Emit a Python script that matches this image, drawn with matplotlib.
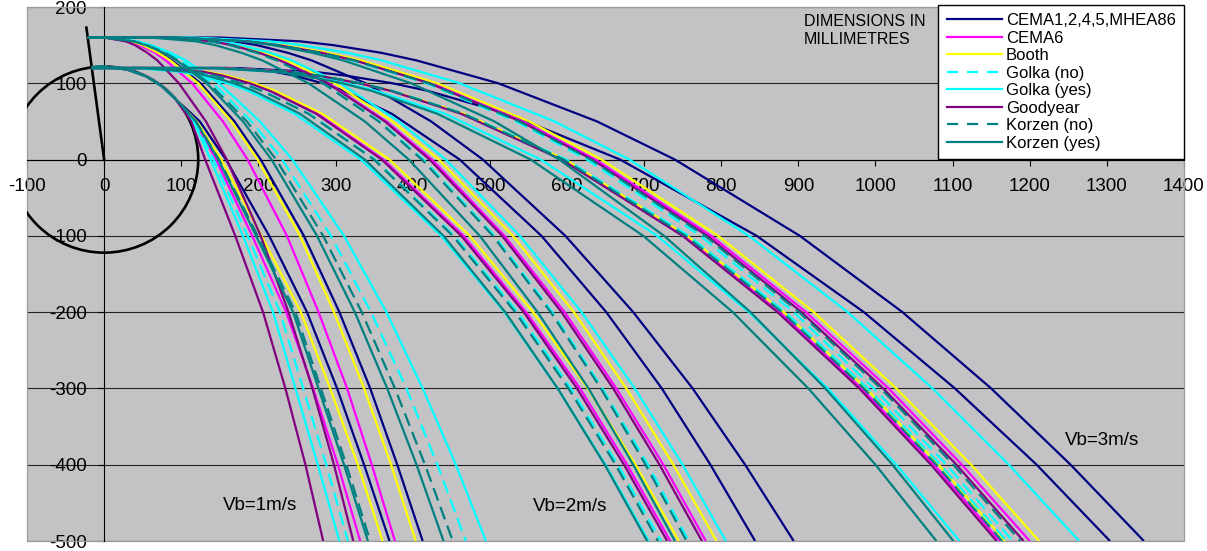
import matplotlib
matplotlib.use("Agg")
import matplotlib.pyplot as plt
from matplotlib.patches import Circle, Rectangle
from matplotlib.lines import Line2D

plt.rcParams['font.family'] = ['Liberation Sans', 'DejaVu Sans']
plt.rcParams['axes.unicode_minus'] = False

# ---------------- data ----------------
series_names = ["CEMA1,2,4,5,MHEA86", "CEMA6", "Booth", "Golka (no)",
                "Golka (yes)", "Goodyear", "Korzen (no)", "Korzen (yes)"]
series_colors = ['#000080', '#ff00ff', '#ffff00', '#00ffff',
                 '#00ffff', '#800080', '#008080', '#008080']
series_dashed = [False, False, False, True, False, False, True, False]

# y levels (mm) shared by the curves of each bundle
upper_y = [160, 160, 155, 150, 140, 130, 100, 50, 0, -100, -200, -300, -400, -500]
lower_y = [120, 120, 115, 110, 100, 90, 60, 0, -100, -200, -300, -400, -500]
pulley_y = [121, 122, 118, 109, 96, 80, 50, 0, -100, -200, -300, -400, -500]

# Vb = 3 m/s, top of material layer
vb3_upper_x = {
    "CEMA1,2,4,5,MHEA86": [-21, 150, 254, 297, 359, 405, 511, 639, 740, 902, 1035, 1150, 1253, 1348],
    "CEMA6":              [-21, 90, 187, 227, 283, 327, 425, 543, 637, 787, 910, 1017, 1112, 1200],
    "Booth":              [-21, 95, 192, 232, 290, 333, 432, 551, 645, 796, 920, 1027, 1124, 1212],
    "Golka (no)":         [-21, 90, 185, 224, 279, 322, 418, 534, 626, 773, 894, 998, 1092, 1178],
    "Golka (yes)":        [-21, 115, 215, 256, 315, 360, 461, 584, 681, 836, 964, 1074, 1173, 1264],
    "Goodyear":           [-21, 90, 186, 226, 282, 325, 422, 540, 633, 782, 904, 1010, 1105, 1192],
    "Korzen (no)":        [-21, 90, 186, 225, 281, 324, 421, 538, 631, 779, 901, 1007, 1101, 1188],
    "Korzen (yes)":       [-21, 95, 183, 219, 270, 310, 398, 506, 590, 726, 838, 935, 1022, 1101],
}
# Vb = 3 m/s, belt surface
vb3_lower_x = {
    "CEMA1,2,4,5,MHEA86": [-16, 170, 272, 314, 374, 420, 523, 669, 846, 985, 1103, 1209, 1304],
    "CEMA6":              [-16, 150, 241, 278, 332, 372, 465, 595, 752, 876, 982, 1076, 1161],
    "Booth":              [-16, 150, 241, 279, 333, 374, 467, 598, 756, 881, 988, 1082, 1168],
    "Golka (no)":         [-16, 150, 242, 280, 333, 374, 467, 599, 758, 883, 990, 1084, 1170],
    "Golka (yes)":        [-16, 140, 227, 263, 314, 353, 442, 566, 717, 836, 938, 1027, 1109],
    "Goodyear":           [-16, 150, 240, 278, 331, 372, 463, 593, 750, 873, 979, 1072, 1157],
    "Korzen (no)":        [-16, 150, 241, 279, 332, 373, 466, 596, 754, 879, 985, 1079, 1164],
    "Korzen (yes)":       [-16, 140, 224, 259, 309, 347, 432, 553, 699, 815, 913, 1000, 1079],
}
# Vb = 2 m/s, top of material layer
vb2_upper_x = {
    "CEMA1,2,4,5,MHEA86": [-21, 100, 169, 198, 238, 269, 339, 424, 491, 598, 686, 763, 831, 894],
    "CEMA6":              [-21, 80, 141, 166, 202, 229, 291, 366, 425, 519, 597, 664, 725, 780],
    "Booth":              [-21, 85, 147, 172, 208, 236, 299, 374, 434, 530, 609, 677, 738, 794],
    "Golka (no)":         [-21, 80, 139, 164, 198, 225, 284, 357, 414, 506, 581, 646, 705, 758],
    "Golka (yes)":        [-21, 90, 152, 178, 215, 243, 306, 382, 443, 539, 619, 688, 750, 806],
    "Goodyear":           [-21, 80, 141, 166, 201, 228, 290, 364, 422, 516, 593, 660, 720, 775],
    "Korzen (no)":        [-21, 80, 139, 163, 198, 224, 284, 356, 412, 504, 579, 644, 702, 755],
    "Korzen (yes)":       [-21, 60, 119, 144, 178, 205, 265, 338, 395, 487, 562, 628, 686, 740],
}
# Vb = 2 m/s, belt surface
vb2_lower_x = {
    "CEMA1,2,4,5,MHEA86": [-16, 160, 221, 247, 283, 311, 373, 461, 567, 651, 723, 786, 844],
    "CEMA6":              [-16, 70, 130, 154, 189, 216, 277, 362, 466, 547, 617, 678, 734],
    "Booth":              [-16, 75, 135, 160, 195, 222, 283, 370, 474, 556, 627, 689, 745],
    "Golka (no)":         [-16, 60, 119, 144, 179, 206, 266, 351, 454, 536, 605, 666, 722],
    "Golka (yes)":        [-16, 40, 100, 125, 160, 187, 247, 333, 437, 519, 588, 650, 706],
    "Goodyear":           [-16, 70, 129, 154, 189, 215, 275, 360, 463, 544, 613, 674, 730],
    "Korzen (no)":        [-16, 60, 119, 144, 178, 205, 265, 350, 452, 533, 602, 663, 718],
    "Korzen (yes)":       [-16, 50, 109, 133, 168, 194, 254, 338, 440, 520, 588, 649, 704],
}
# Vb = 1 m/s, top of material layer
vb1_upper_x = {
    "CEMA1,2,4,5,MHEA86": [-21, 0, 36, 51, 72, 88, 125, 169, 203, 259, 305, 345, 380, 413],
    "CEMA6":              [-21, 0, 33, 46, 66, 80, 114, 154, 186, 237, 278, 315, 347, 377],
    "Booth":              [-21, 0, 35, 50, 70, 86, 122, 165, 199, 254, 298, 337, 372, 404],
    "Golka (no)":         [-21, 0, 41, 58, 82, 100, 141, 191, 231, 294, 346, 392, 432, 469],
    "Golka (yes)":        [-21, 0, 43, 61, 86, 106, 149, 202, 244, 311, 366, 413, 456, 495],
    "Goodyear":           [-21, 0, 28, 40, 56, 69, 97, 132, 159, 203, 239, 270, 298, 323],
    "Korzen (no)":        [-21, 0, 39, 56, 79, 96, 136, 185, 223, 284, 334, 377, 416, 452],
    "Korzen (yes)":       [-21, 0, 38, 54, 77, 94, 133, 180, 217, 276, 325, 367, 405, 440],
}
# Vb = 1 m/s, belt surface (follows the pulley before release)
vb1_lower_x = {
    "CEMA1,2,4,5,MHEA86": [-16, 0, 30, 55, 75, 92, 124, 158, 214, 263, 302, 337, 370],
    "CEMA6":              [-16, 0, 30, 55, 75, 92, 118, 145, 192, 236, 271, 303, 332],
    "Booth":              [-16, 0, 30, 55, 75, 92, 120, 152, 204, 255, 293, 329, 361],
    "Golka (no)":         [-16, 0, 30, 55, 75, 92, 117, 142, 186, 228, 258, 288, 316],
    "Golka (yes)":        [-16, 0, 30, 55, 75, 92, 116, 138, 180, 219, 248, 277, 305],
    "Goodyear":           [-16, 0, 30, 55, 75, 92, 113, 131, 170, 206, 235, 261, 284],
    "Korzen (no)":        [-16, 0, 30, 55, 75, 92, 119, 149, 199, 248, 281, 314, 345],
    "Korzen (yes)":       [-16, 0, 30, 55, 75, 92, 119, 148, 197, 245, 278, 311, 342],
}

pulley_radius = 122
belt_line_x = [0, -23]
belt_line_y = [0, 173]

x_ticks = list(range(-100, 1401, 100))
y_ticks = list(range(-500, 201, 100))

speed_labels = ["Vb=1m/s", "Vb=2m/s", "Vb=3m/s"]
speed_label_x = [154, 556, 1246]
speed_label_y = [-453, -455, -368]

bundles = [(vb1_lower_x, pulley_y), (vb1_upper_x, upper_y),
           (vb2_lower_x, lower_y), (vb2_upper_x, upper_y),
           (vb3_lower_x, lower_y), (vb3_upper_x, upper_y)]

# ---------------- figure ----------------
fig = plt.figure(figsize=(12.07, 5.51), dpi=100)
ax = fig.add_axes([27 / 1207, 10 / 551, 1157 / 1207, 534 / 551])
ax.set_facecolor('#c3c2c5')
ax.set_xlim(-100, 1400)
ax.set_ylim(-500, 200)

handles = []
for name, col, dashed in zip(series_names, series_colors, series_dashed):
    for xs_dict, ys in bundles:
        ln, = ax.plot(xs_dict[name], ys, color=col, lw=1.6, zorder=3,
                      solid_joinstyle='round', solid_capstyle='butt')
        if dashed:
            ln.set_dashes([6, 3])
    h = Line2D([], [], color=col, lw=1.6)
    if dashed:
        h.set_dashes([5, 4])
    handles.append(h)

ax.add_patch(Circle((0, 0), pulley_radius, fill=False, edgecolor='black',
                    lw=1.9, zorder=2.8))
ax.plot(belt_line_x, belt_line_y, color='black', lw=1.9, zorder=2.8)

# axes through the origin
for s in ['top', 'right']:
    ax.spines[s].set_visible(False)
ax.spines['left'].set_position(('data', 0))
ax.spines['bottom'].set_position(('data', 0))
for s in ['left', 'bottom']:
    ax.spines[s].set_color('black')
    ax.spines[s].set_linewidth(0.8)
ax.add_patch(Rectangle((0, 0), 1, 1, transform=ax.transAxes, fill=False,
                       edgecolor='#9a9a9a', lw=0.9, clip_on=False, zorder=1))

ax.set_xticks(x_ticks)
ax.set_yticks(y_ticks)
ax.tick_params(axis='x', direction='out', length=4.5, width=0.8, pad=9,
               labelsize=13.5, colors='black')
ax.tick_params(axis='y', direction='out', length=4.5, width=0.8, pad=8,
               labelsize=13.5, colors='black')
ax.yaxis.grid(True, color='#222222', lw=0.8)
ax.xaxis.grid(False)
ax.set_axisbelow(True)

leg = ax.legend(handles, series_names, loc='upper right',
                bbox_to_anchor=(1.0, 1.004), borderaxespad=0, frameon=True,
                fancybox=False, edgecolor='black', framealpha=1, fontsize=12,
                handlelength=3.3, handletextpad=0.25, labelspacing=0.15,
                borderpad=0.5)
leg.get_frame().set_linewidth(1.0)
leg.set_zorder(10)

ax.text(907, 169, "DIMENSIONS IN\nMILLIMETRES", fontsize=11.5, ha='left',
        va='center', linespacing=1.3, zorder=5)
for lab, lx, ly in zip(speed_labels, speed_label_x, speed_label_y):
    ax.text(lx, ly, lab, fontsize=13.5, ha='left', va='center', zorder=5)

fig.savefig("out.png", dpi=100)
